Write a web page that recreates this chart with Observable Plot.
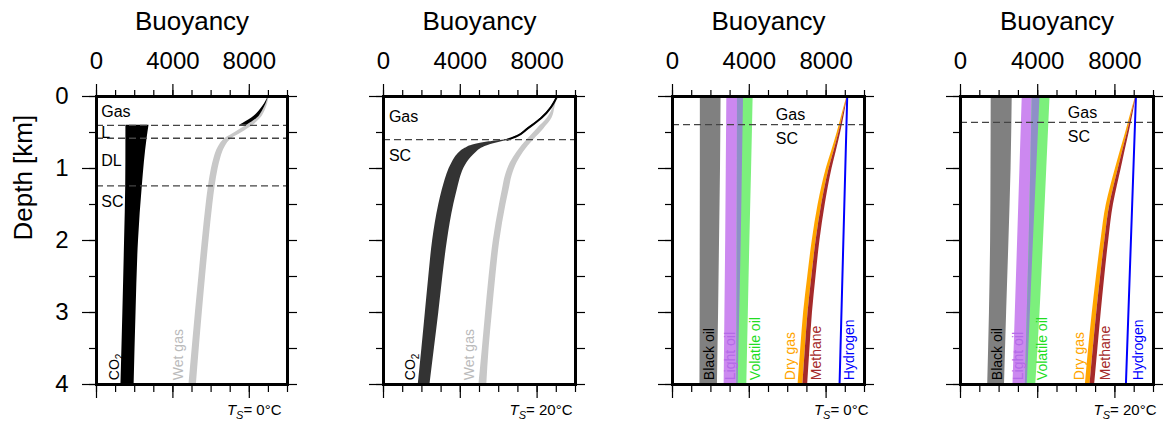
<!DOCTYPE html>
<html><head><meta charset="utf-8">
<script src="https://cdn.jsdelivr.net/npm/d3@7"></script>
<script src="https://cdn.jsdelivr.net/npm/@observablehq/plot@0.6"></script>
<style>
body{margin:0;background:#fff;}
#row{display:flex;width:1170px;height:422px;}
#row svg{overflow:visible;flex:none;}
</style></head><body><div id="row"></div>
<script>
// ---------- axis ticks ----------
const xMajor = [0, 4000, 8000];
const xMinor = [0,1000,2000,3000,4000,5000,6000,7000,8000,9000,10000];
const yMajor = [0, 1, 2, 3, 4];
const yMinor = [0,0.5,1,1.5,2,2.5,3,3.5,4];

// ---------- Panel 1 (Ts = 0°C) ----------
const p1WetDepth = [0,0.1,0.2,0.3,0.4,0.5,0.58,0.7,0.85,1.0,1.25,1.5,2,2.5,3,3.5,4];
const p1WetLo    = [9000,8880,8680,8400,7870,7250,6750,6380,6160,6020,5860,5740,5540,5360,5180,5010,4840];
const p1WetHi    = [9040,8960,8820,8600,8200,7620,7100,6730,6510,6370,6210,6090,5890,5710,5540,5380,5230];
const p1Co2GasDepth = [0,0.1,0.2,0.3,0.4];
const p1Co2GasLo    = [9000,8800,8520,8130,7490];
const p1Co2GasHi    = [9010,8880,8690,8420,7870];
const p1Co2LiqDepth = [0.4,0.58,1.24,2,3,4];
const p1Co2LiqLo    = [1540,1540,1530,1470,1380,1280];
const p1Co2LiqHi    = [2750,2650,2400,2200,2070,1970];
const p1Phase = [0.4, 0.58, 1.24];

// ---------- Panel 2 (Ts = 20°C) ----------
const p2WetDepth = [0,0.15,0.3,0.45,0.6,0.77,0.92,1.1,1.3,1.5,2,2.5,3,3.5,4];
const p2WetLo    = [9030,8840,8540,8000,7480,6960,6610,6350,6190,6040,5720,5500,5320,5150,4970];
const p2WetHi    = [9050,8930,8780,8350,7830,7300,6960,6700,6540,6380,6060,5850,5670,5500,5380];
const p2Co2Depth = [0,0.15,0.3,0.45,0.55,0.6,0.63,0.67,0.72,0.77,0.85,0.92,1.0,1.15,1.3,1.5,2,2.5,3,3.5,4];
const p2Co2Lo    = [9040,8710,8200,7460,6920,6380,5500,4700,4250,3980,3720,3570,3420,3220,3060,2880,2560,2360,2180,2000,1810];
const p2Co2Hi    = [9050,8760,8280,7560,7040,6560,6150,5550,5100,4850,4550,4350,4180,3980,3840,3660,3330,3090,2880,2650,2420];
const p2Co2GasDepth = [0,0.15,0.3,0.45,0.55,0.6];
const p2Co2GasX     = [9040,8720,8220,7480,6950,6440];
const p2Phase = [0.6];

// ---------- Panel 3 (Ts = 0°C) ----------
const oilDepth = [0,1,2,3,4];
const p3BlackLo = [1450,1450,1445,1440,1430];
const p3BlackHi = [2530,2500,2450,2400,2340];
const p3LightLo = [2830,2800,2770,2730,2690];
const p3LightHi = [3700,3640,3580,3500,3420];
const p3VolLo   = [3385,3380,3370,3360,3350];
const p3VolHi   = [4200,4120,4030,3950,3870];
const gasDepth  = [0,0.25,0.5,0.75,1.0,1.25,1.5,2,2.5,3,3.5,4];
const p3DryLo   = [9085,8830,8580,8300,8010,7780,7585,7280,7045,6830,6680,6540];
const p3Mid     = [9100,8890,8670,8420,8160,7950,7770,7480,7260,7060,6920,6790];
const p3MethHi  = [9115,8950,8760,8540,8310,8120,7955,7680,7475,7290,7160,7040];
const h2Depth = [0,4];
const p3H2 = [9100,8700];
const p3Phase = [0.39];

// ---------- Panel 4 (Ts = 20°C) ----------
const p4BlackLo = [1590,1580,1560,1500,1410];
const p4BlackHi = [2680,2620,2510,2390,2280];
const p4LightLo = [3200,3080,2960,2840,2720];
const p4LightHi = [4120,3950,3780,3620,3460];
const p4VolLo   = [3720,3640,3560,3460,3360];
const p4VolHi   = [4640,4470,4300,4120,3900];
const p4DryLo   = [9075,8810,8560,8290,8030,7780,7555,7280,7045,6830,6640,6470];
const p4Mid     = [9090,8870,8650,8410,8180,7950,7740,7480,7260,7060,6880,6710];
const p4MethHi  = [9105,8930,8740,8530,8330,8120,7925,7680,7475,7290,7120,6950];
const p4H2 = [9090,8570];
const p4Phase = [0.36];

// ---------- labels ----------
const p1Regions = [{t:"Gas",x:250,d:0.22},{t:"L",x:250,d:0.51},{t:"DL",x:250,d:0.90},{t:"SC",x:250,d:1.47}];
const p2Regions = [{t:"Gas",x:280,d:0.28},{t:"SC",x:280,d:0.82}];
const p3Regions = [{t:"Gas",x:5380,d:0.25},{t:"SC",x:5380,d:0.59}];
const p4Regions = [{t:"Gas",x:5560,d:0.225},{t:"SC",x:5560,d:0.565}];
const p1Names = [{t:"CO2",x:930,c:"#000"},{t:"Wet gas",x:4280,c:"#bbbbbb"}];
const p2Names = [{t:"CO2",x:1400,c:"#000"},{t:"Wet gas",x:4470,c:"#bbbbbb"}];
const fluidNames = ["Black oil","Light oil","Volatile oil","Dry gas","Methane","Hydrogen"];
const fluidTextColors = ["#000000","#b46ae8","#22dd22","#ffa500","#a52a2a","#0000ff"];
const p3NameX = [1910,3040,4300,6160,7510,9220];
const p4NameX = [1900,3030,4240,6150,7530,9230];

const FONT = "'Liberation Sans', Arial, Helvetica, sans-serif";

const band = (depth, lo, hi) => depth.map((d,i)=>({d, lo: lo[i], hi: hi[i]}));
const pts = (depth, x) => depth.map((d,i)=>({d, x: x[i]}));
const noFmt = () => "";

function panel({width, ml, mr, marks, yLabels, ts, tsDx}) {
  const tk = {label:null, tickFormat:noFmt, strokeWidth:1.2};
  const common = [
    Plot.frame({stroke:"black", strokeWidth:3}),
    Plot.axisX({...tk, anchor:"top", ticks:xMinor, tickSize:7}),
    Plot.axisX({...tk, anchor:"top", ticks:xMajor, tickSize:13}),
    Plot.axisX({...tk, anchor:"bottom", ticks:xMinor, tickSize:8}),
    Plot.axisX({...tk, anchor:"bottom", ticks:xMajor, tickSize:14}),
    Plot.axisY({...tk, anchor:"left", ticks:yMinor, tickSize:7}),
    Plot.axisY({...tk, anchor:"left", ticks:yMajor, tickSize:14}),
    Plot.axisY({...tk, anchor:"right", ticks:yMinor, tickSize:9}),
    Plot.text(xMajor, {x:d=>d, text:d=>String(d), frameAnchor:"top", dy:-35, lineAnchor:"middle", fontSize:24, fill:"black"}),
    Plot.text(["Buoyancy"], {frameAnchor:"top", dy:-75, lineAnchor:"middle", fontSize:26, fill:"black"}),
    Plot.text([ts], {frameAnchor:"bottom-right", dx:tsDx, dy:26, textAnchor:"end", lineAnchor:"middle", fontSize:15, fill:"black"})
  ];
  if (yLabels) {
    common.push(Plot.text(yMajor, {y:d=>d, text:d=>String(d), frameAnchor:"left", dx:-28, textAnchor:"end", lineAnchor:"middle", fontSize:24, fill:"black"}));
    common.push(Plot.text(["Depth [km]"], {frameAnchor:"left", dx:-73, rotate:-90, lineAnchor:"middle", fontSize:26, fill:"black"}));
  }
  const svg = Plot.plot({
    width, height:422, marginTop:96, marginBottom:38, marginLeft:ml, marginRight:mr,
    style:{fontFamily:FONT, background:"transparent", overflow:"visible"},
    x:{domain:[0,10000], axis:null},
    y:{domain:[0,4], reverse:true, axis:null},
    marks:[...marks, ...common]
  });
  svg.querySelectorAll("text").forEach(t => {
    const s = t.textContent;
    if (s.startsWith("TS=")) {
      t.textContent = "";
      t.innerHTML = `<tspan font-style="italic">T</tspan><tspan font-style="italic" font-size="11" dy="4">S</tspan><tspan dy="-4">${s.slice(2)}</tspan>`;
    } else if (s === "CO2") {
      t.textContent = "";
      t.innerHTML = `<tspan>CO</tspan><tspan font-size="10" dy="4">2</tspan>`;
    }
  });
  return svg;
}

const dashed = (vals) => Plot.ruleY(vals, {y:d=>d, stroke:"#444", strokeWidth:1.3, strokeDasharray:"7,4"});
const regionText = (arr) => Plot.text(arr, {x:"x", y:"d", text:"t", textAnchor:"start", lineAnchor:"middle", fontSize:16, fill:"black"});
const nameText = (arr) => Plot.text(arr, {x:"x", y:3.94, text:"t", rotate:-90, textAnchor:"start", lineAnchor:"middle", fontSize:14, fill:d=>d.c});
const fluidText = (xs) => Plot.text(fluidNames.map((t,i)=>({t, x:xs[i], c:fluidTextColors[i]})), {x:"x", y:3.94, text:"t", rotate:-90, textAnchor:"start", lineAnchor:"middle", fontSize:14, fill:d=>d.c});
const area = (data, fill) => Plot.areaX(data, {y:"d", x1:"lo", x2:"hi", fill, curve:"monotone-y"});

function fluidMarks(blackLo, blackHi, lightLo, lightHi, volLo, volHi, dryLo, mid, methHi, h2, phase, regions, nameXs) {
  return [
    area(band(oilDepth, blackLo, blackHi), "#808080"),
    area(band(oilDepth, lightLo, lightHi), "#cc88f0"),
    area(band(oilDepth, volLo, volHi), "#7cf07c"),
    area(band(oilDepth, volLo, lightHi), "#8f8fc8"),
    area(band(gasDepth, dryLo, mid), "#ffa500"),
    area(band(gasDepth, mid, methHi), "#a52a2a"),
    Plot.line(pts(h2Depth, h2), {x:"x", y:"d", stroke:"#0000ff", strokeWidth:2}),
    dashed(phase),
    regionText(regions),
    fluidText(nameXs)
  ];
}

const row = document.getElementById("row");

row.append(panel({width:300, ml:96, mr:13, yLabels:true, ts:"TS= 0°C", tsDx:-6, marks:[
  area(band(p1WetDepth, p1WetLo, p1WetHi), "#c8c8c8"),
  area(band(p1Co2GasDepth, p1Co2GasLo, p1Co2GasHi), "#000000"),
  area(band(p1Co2LiqDepth, p1Co2LiqLo, p1Co2LiqHi), "#000000"),
  dashed(p1Phase),
  regionText(p1Regions),
  nameText(p1Names)
]}));

row.append(panel({width:288, ml:83, mr:13, yLabels:false, ts:"TS= 20°C", tsDx:-3, marks:[
  area(band(p2WetDepth, p2WetLo, p2WetHi), "#c8c8c8"),
  area(band(p2Co2Depth, p2Co2Lo, p2Co2Hi), "#333333"),
  Plot.line(pts(p2Co2GasDepth, p2Co2GasX), {x:"x", y:"d", stroke:"#000", strokeWidth:2, curve:"monotone-y"}),
  dashed(p2Phase),
  regionText(p2Regions),
  nameText(p2Names)
]}));

row.append(panel({width:289, ml:84, mr:13, yLabels:false, ts:"TS= 0°C", tsDx:4,
  marks: fluidMarks(p3BlackLo,p3BlackHi,p3LightLo,p3LightHi,p3VolLo,p3VolHi,p3DryLo,p3Mid,p3MethHi,p3H2,p3Phase,p3Regions,p3NameX)}));

row.append(panel({width:293, ml:83, mr:17, yLabels:false, ts:"TS= 20°C", tsDx:3,
  marks: fluidMarks(p4BlackLo,p4BlackHi,p4LightLo,p4LightHi,p4VolLo,p4VolHi,p4DryLo,p4Mid,p4MethHi,p4H2,p4Phase,p4Regions,p4NameX)}));
</script></body></html>
